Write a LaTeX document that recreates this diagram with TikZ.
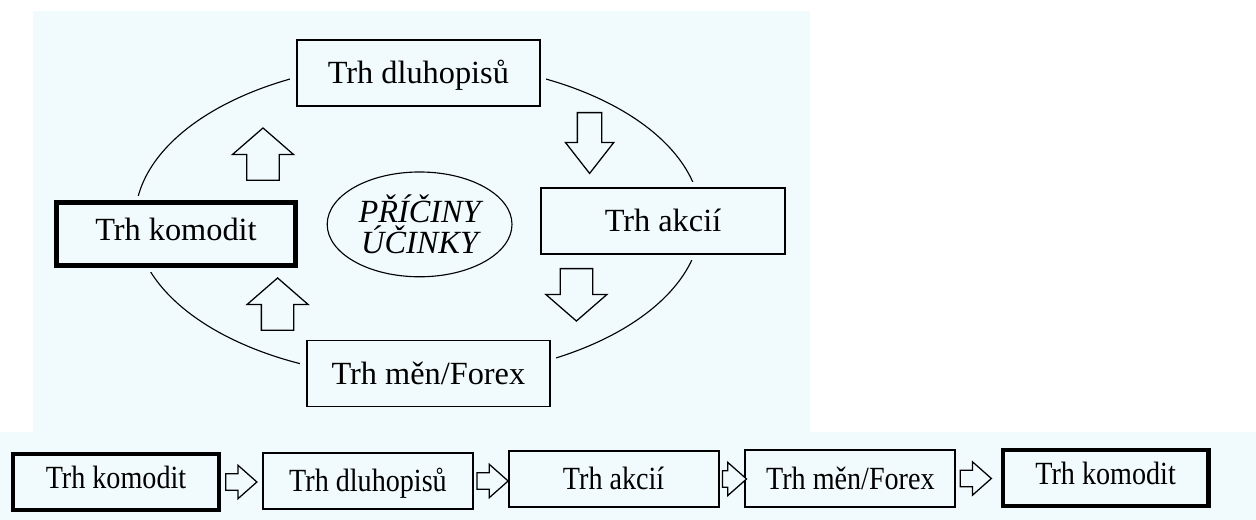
\documentclass[tikz,border=0pt]{standalone}
\usepackage{fontspec}
\setmainfont{Liberation Serif}
\newfontfamily\narrowserif[FakeStretch=0.87]{Liberation Serif}
\usetikzlibrary{shapes.geometric,shapes.arrows,positioning}
\definecolor{panel}{RGB}{241,251,253}
\tikzset{
  market/.style={draw, line width=1.3pt, fill=panel,
    minimum width=6.08cm, minimum height=1.65cm, inner sep=0pt,
    text height=15.2pt, text depth=0pt,
    font=\fontsize{23}{27}\selectfont,
    preaction={draw=panel, line width=9pt}},
  marketbold/.style={market, line width=3.4pt,
    minimum width=5.98cm, minimum height=1.58cm, text depth=5.5pt},
  chainbox/.style={draw, line width=1.3pt, fill=panel,
    minimum width=5.25cm, minimum height=1.42cm, inner sep=0pt,
    text height=15.2pt, text depth=0pt,
    font=\narrowserif\fontsize{23}{27}\selectfont},
  chainboxbold/.style={chainbox, line width=3.2pt,
    minimum width=5.14cm, minimum height=1.39cm, text depth=5.5pt},
  bigarrow/.style={single arrow, draw, line width=0.9pt, fill=panel,
    inner xsep=0pt, inner ysep=0.39cm, minimum height=1.31cm,
    single arrow head extend=0.36cm, single arrow tip angle=98},
  smallarrow/.style={single arrow, draw, line width=0.9pt, fill=panel,
    inner xsep=0pt, inner ysep=0.19cm, minimum height=0.78cm,
    single arrow head extend=0.21cm, single arrow tip angle=83}
}
\begin{document}
\begin{tikzpicture}
  \useasboundingbox (0,0) rectangle (31.4,13);
  % backgrounds
  \fill[panel] (0.825,2.2) rectangle (20.25,12.725);
  \fill[panel] (0,0) rectangle (31.4,2.2);
  % the cycle
  \node[draw, ellipse, line width=0.8pt, minimum width=14.15cm, minimum height=7.9cm] (cycle) at (10.45,7.5) {};
  \node[market] (dluh) at (10.46,11.175) {Trh dluhopisů};
  \node[market] (akcie) at (16.575,7.475) {Trh akcií};
  \node[marketbold] (komod) at (4.4,7.15) {Trh komodit};
  \node[market] (meny) at (10.71,3.6625) {Trh měn/Forex};
  % middle
  \node[draw, ellipse, line width=0.8pt, minimum width=4.62cm, minimum height=2.62cm,
    inner sep=0pt, align=center, font=\itshape\fontsize{23}{21.5}\selectfont] (why) at (10.49,7.39) {PŘÍČINY\\ÚČINKY};
  % block arrows
  \node[bigarrow, rotate=90, anchor=tail] (up1) at (6.575,8.475) {};
  \node[bigarrow, rotate=-90, anchor=tail, inner ysep=0.29cm, minimum height=1.52cm,
    single arrow head extend=0.3cm, single arrow tip angle=76] (down1) at (14.74,10.2) {};
  \node[bigarrow, rotate=-90, anchor=tail] (down2) at (14.41,6.3) {};
  \node[bigarrow, rotate=90, anchor=tail] (up2) at (6.94,4.725) {};
  % chain
  \node[chainboxbold] (c1) at (2.9,0.95) {Trh komodit};
  \node[chainbox] (c2) at (9.2,0.975) {Trh dluhopisů};
  \node[chainbox] (c3) at (15.34,1.025) {Trh akcií};
  \node[chainbox] (c4) at (21.26,1.0375) {Trh měn/Forex};
  \node[chainboxbold] (c5) at (27.64,1.05) {Trh komodit};
  \node[smallarrow, right=0.1cm of c1, anchor=tail] (n12) {};
  \node[smallarrow, right=0.06cm of c2, anchor=tail] (n23) {};
  \node[smallarrow, right=0.06cm of c3, anchor=tail, minimum height=0.6cm] (n34) {};
  \node[smallarrow, right=0.08cm of c4, anchor=tail] (n45) {};
\end{tikzpicture}
\end{document}
